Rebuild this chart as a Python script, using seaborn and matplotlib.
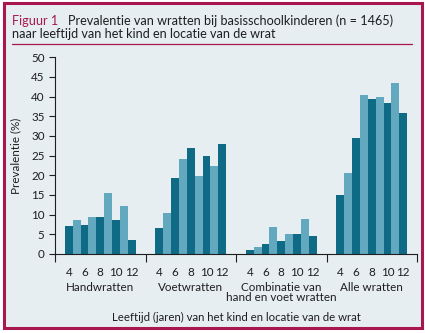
import matplotlib
matplotlib.use("Agg")
import matplotlib.pyplot as plt
from matplotlib.patches import Rectangle
from matplotlib.lines import Line2D
import seaborn as sns
import pandas as pd

# Prevalence (%) of warts per age (4-12 years) and location
ages = [4, 5, 6, 7, 8, 9, 10, 11, 12]
locations = ["Handwratten", "Voetwratten", "Combinatie van\nhand en voet wratten", "Alle wratten"]
hand = [7.1, 8.6, 7.4, 9.4, 9.4, 15.5, 8.6, 12.2, 3.6]
voet = [6.6, 10.5, 19.4, 24.2, 26.9, 19.8, 24.9, 22.4, 28.0]
combi = [1.0, 1.8, 2.5, 6.9, 3.3, 5.1, 5.1, 8.9, 4.6]
alle = [15.0, 20.6, 29.5, 40.4, 39.4, 39.9, 38.4, 43.5, 35.8]
age_tick_labels = ["4", "6", "8", "10", "12"]

series = [hand, voet, combi, alle]
df = pd.DataFrame(
    [(loc, str(a), v) for loc, vals in zip(locations, series) for a, v in zip(ages, vals)],
    columns=["locatie", "leeftijd", "prevalentie"],
)

DARK = "#0f6a86"
LIGHT = "#62a8be"
CRIMSON = "#a8174e"
BG = "#e6eef2"
INK = "#1e1e1e"

sns.set_theme(style="white")
plt.rcParams["font.family"] = ["Lato", "DejaVu Sans"]

fig = plt.figure(figsize=(4.25, 3.33), dpi=100)
fig.patch.set_facecolor("white")
W, H = 425.0, 333.0

# Framed panel behind everything
fig.patches.append(Rectangle((3.5 / W, 1 - 327.5 / H), 418.5 / W, 325 / H,
                             transform=fig.transFigure, facecolor=BG,
                             edgecolor=CRIMSON, linewidth=2.2, zorder=-10))
fig.lines.append(Line2D([12 / W, 412 / W], [1 - 44 / H, 1 - 44 / H],
                        transform=fig.transFigure, color=CRIMSON, linewidth=0.9))

TITLE_FS = 9.1
fig.text(12 / W, 1 - 25 / H, "Figuur 1", color=CRIMSON, fontsize=TITLE_FS,
         va="baseline", ha="left")
fig.text(68 / W, 1 - 25 / H, "Prevalentie van wratten bij basisschoolkinderen (n = 1465)",
         color=INK, fontsize=TITLE_FS, va="baseline", ha="left")
fig.text(12 / W, 1 - 37.5 / H, "naar leeftijd van het kind en locatie van de wrat",
         color=INK, fontsize=TITLE_FS, va="baseline", ha="left")

ax = fig.add_axes([55 / W, 1 - 254 / H, (417 - 55) / W, (254 - 57.3) / H])
ax.set_facecolor("none")

palette = {str(a): (DARK if i % 2 == 0 else LIGHT) for i, a in enumerate(ages)}
sns.barplot(data=df, x="locatie", y="prevalentie", hue="leeftijd",
            order=locations, hue_order=[str(a) for a in ages], palette=palette,
            width=0.78, gap=0, saturation=1, linewidth=0, legend=False, ax=ax)

ax.set_xlim(-0.5, 3.5)
ax.set_ylim(0, 50)
ax.set_yticks(range(0, 51, 5))

centers = sorted(p.get_x() + p.get_width() / 2 for p in ax.patches)
tick_pos = []
tick_lab = []
for g in range(len(locations)):
    grp = centers[g * len(ages):(g + 1) * len(ages)]
    for k, lab in zip([0, 2, 4, 6, 8], age_tick_labels):
        tick_pos.append(grp[k])
        tick_lab.append(lab)
ax.set_xticks(tick_pos)
ax.set_xticklabels(tick_lab)
ax.set_xticks([g - 0.5 for g in range(len(locations) + 1)], minor=True)

ax.tick_params(axis="x", which="major", length=0, pad=9.5, labelsize=8.4, labelcolor=INK)
ax.tick_params(axis="x", which="minor", length=6, width=0.8, color=INK, direction="out")
ax.tick_params(axis="y", which="major", length=4.5, width=0.8, color=INK, direction="out",
               pad=3, labelsize=8.4, labelcolor=INK)
ax.tick_params(left=True, bottom=True, which="both")

for s in ["top", "right"]:
    ax.spines[s].set_visible(False)
for s in ["left", "bottom"]:
    ax.spines[s].set_color(INK)
    ax.spines[s].set_linewidth(0.8)

for g, loc in enumerate(locations):
    ax.annotate(loc, xy=(g, 0), xycoords=("data", "axes fraction"),
                xytext=(0, -20), textcoords="offset points",
                ha="center", va="top", fontsize=8.4, color=INK, linespacing=0.95)

ax.set_xlabel("Leeftijd (jaren) van het kind en locatie van de wrat",
              fontsize=8.2, color=INK, labelpad=24)
ax.set_ylabel("Prevalentie (%)", fontsize=8.4, color=INK, labelpad=7)

fig.savefig("out.png", dpi=100, facecolor="white")
